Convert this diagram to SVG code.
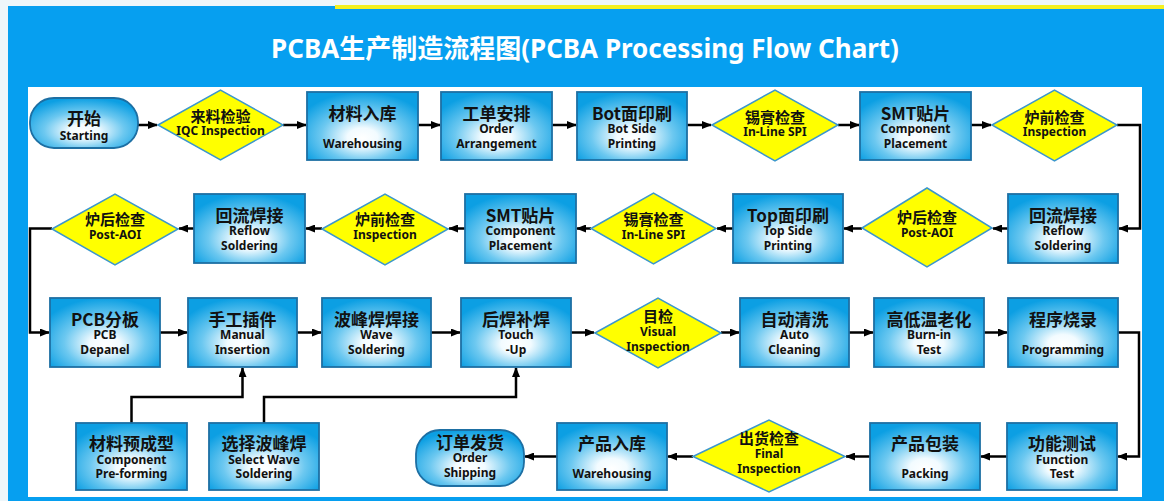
<svg xmlns="http://www.w3.org/2000/svg" width="1164" height="501" viewBox="0 0 1164 501">
<style>
.box{fill:url(#bg);stroke:#1d6fa3;stroke-width:1.8}
.dia{fill:#ffff00;stroke:#3c97cc;stroke-width:1.5}
.cn{font-family:"Noto Sans CJK SC","Noto Sans",sans-serif;font-weight:bold;font-size:17px;fill:#111;text-anchor:middle}
.cnd{font-family:"Noto Sans CJK SC","Noto Sans",sans-serif;font-weight:bold;font-size:15px;fill:#111;text-anchor:middle}
.en{font-family:"Noto Sans","Liberation Sans",sans-serif;font-weight:bold;font-size:12px;fill:#111;text-anchor:middle}
.ln{fill:none;stroke:#000;stroke-width:2.5;marker-end:url(#ah)}
.lnn{fill:none;stroke:#000;stroke-width:2.5}
</style>
<defs>
<radialGradient id="bg" cx="50%" cy="62%" r="62%" fx="50%" fy="68%">
<stop offset="0" stop-color="#ffffff"/>
<stop offset="0.22" stop-color="#f2fbff"/>
<stop offset="0.6" stop-color="#6cc8f0"/>
<stop offset="1" stop-color="#0c9fe3"/>
</radialGradient>
<marker id="ah" markerUnits="userSpaceOnUse" markerWidth="10" markerHeight="8" refX="9" refY="4" orient="auto">
<path d="M0,0 L10,4 L0,8 z" fill="#000"/>
</marker>
</defs>
<rect x="0" y="0" width="1164" height="501" fill="#eef6fa"/>
<rect x="8" y="6" width="1156" height="495" fill="#069ff0"/>
<rect x="335" y="5" width="829" height="4" fill="#f4f020"/>
<rect x="28" y="87" width="1114" height="410" fill="#ffffff"/>
<text x="585" y="58" font-family="'Noto Sans','Noto Sans CJK SC',sans-serif" font-weight="bold" font-size="26" fill="#ffffff" text-anchor="middle">PCBA生产制造流程图(PCBA Processing Flow Chart)</text>

<g id="connectors">
<path class="ln" d="M138,125 H157"/>
<path class="ln" d="M283,125 H306"/>
<path class="ln" d="M418,125 H440"/>
<path class="ln" d="M552,125 H576"/>
<path class="ln" d="M687,125 H711"/>
<path class="ln" d="M838,125 H859"/>
<path class="ln" d="M971,125 H991"/>
<path class="ln" d="M1117,125 H1140 V228.5 H1119"/>
<path class="ln" d="M1008,228.5 H993"/>
<path class="ln" d="M862,228.5 H844"/>
<path class="ln" d="M733,228.5 H717"/>
<path class="ln" d="M591,228.5 H577"/>
<path class="ln" d="M465,228.5 H449"/>
<path class="ln" d="M322,228.5 H306"/>
<path class="ln" d="M194,228.5 H179"/>
<path class="ln" d="M52,228.5 H30 V332.5 H49"/>
<path class="ln" d="M160,332.5 H187"/>
<path class="ln" d="M297,332.5 H321"/>
<path class="ln" d="M431,332.5 H460"/>
<path class="ln" d="M571,332.5 H594"/>
<path class="ln" d="M721,332.5 H739"/>
<path class="ln" d="M849,332.5 H873"/>
<path class="ln" d="M984,332.5 H1007"/>
<path class="ln" d="M1118,332.5 H1139 V456.5 H1118"/>
<path class="ln" d="M1007,456.5 H981"/>
<path class="ln" d="M870,456.5 H846"/>
<path class="ln" d="M693,456.5 H668"/>
<path class="ln" d="M557,456.5 H525"/>
<path class="ln" d="M131.5,423 V397 H242.5 V368"/>
<path class="ln" d="M264,423 V397 H516 V368"/>
</g>

<g id="n-start"><rect class="box" x="30" y="98" width="108" height="50" rx="24"/><text class="cn" x="84" y="124.5">开始</text><text class="en" x="84" y="139.5">Starting</text></g>
<g id="n-iqc"><polygon class="dia" points="158,125 220.5,90 283,125 220.5,160"/><text class="cnd" x="220.5" y="121.5">来料检验</text><text class="en" x="220.5" y="134.5">IQC Inspection</text></g>
<g id="n-warehousing1"><rect class="box" x="307" y="92" width="111" height="68"/><text class="cn" x="362.5" y="119.5">材料入库</text><text class="en" x="362.5" y="147.5">Warehousing</text></g>
<g id="n-order"><rect class="box" x="441" y="92" width="111" height="68"/><text class="cn" x="496.5" y="119.5">工单安排</text><text class="en" x="496.5" y="132.5">Order</text><text class="en" x="496.5" y="147.5">Arrangement</text></g>
<g id="n-botprint"><rect class="box" x="577" y="92" width="110" height="68"/><text class="cn" x="632" y="119.5">Bot面印刷</text><text class="en" x="632" y="132.5">Bot Side</text><text class="en" x="632" y="147.5">Printing</text></g>
<g id="n-spi1"><polygon class="dia" points="712,125 775,90 838,125 775,161"/><text class="cnd" x="775" y="122.5">锡膏检查</text><text class="en" x="775" y="135.5">In-Line SPI</text></g>
<g id="n-smt1"><rect class="box" x="860" y="92" width="111" height="68"/><text class="cn" x="915.5" y="119.5">SMT贴片</text><text class="en" x="915.5" y="132.5">Component</text><text class="en" x="915.5" y="147.5">Placement</text></g>
<g id="n-preinsp1"><polygon class="dia" points="992,125 1054.5,90 1117,125 1054.5,161"/><text class="cnd" x="1054.5" y="122.5">炉前检查</text><text class="en" x="1054.5" y="135.5">Inspection</text></g>

<g id="n-reflow1"><rect class="box" x="1008" y="194" width="110" height="69"/><text class="cn" x="1063" y="221.5">回流焊接</text><text class="en" x="1063" y="234.5">Reflow</text><text class="en" x="1063" y="249.5">Soldering</text></g>
<g id="n-aoi1"><polygon class="dia" points="862,228 927,188 992,228 927,267"/><text class="cnd" x="927" y="223">炉后检查</text><text class="en" x="927" y="236.5">Post-AOI</text></g>
<g id="n-topprint"><rect class="box" x="733" y="194" width="110" height="69"/><text class="cn" x="788" y="221.5">Top面印刷</text><text class="en" x="788" y="234.5">Top Side</text><text class="en" x="788" y="249.5">Printing</text></g>
<g id="n-spi2"><polygon class="dia" points="591,228.5 653.5,193 716,228.5 653.5,264"/><text class="cnd" x="653.5" y="224.5">锡膏检查</text><text class="en" x="653.5" y="238.5">In-Line SPI</text></g>
<g id="n-smt2"><rect class="box" x="465" y="194" width="111" height="69"/><text class="cn" x="520.5" y="221.5">SMT贴片</text><text class="en" x="520.5" y="234.5">Component</text><text class="en" x="520.5" y="249.5">Placement</text></g>
<g id="n-preinsp2"><polygon class="dia" points="322,229 385,194 448,229 385,265"/><text class="cnd" x="385" y="224.5">炉前检查</text><text class="en" x="385" y="239">Inspection</text></g>
<g id="n-reflow2"><rect class="box" x="194" y="194" width="111" height="69"/><text class="cn" x="249.5" y="221.5">回流焊接</text><text class="en" x="249.5" y="234.5">Reflow</text><text class="en" x="249.5" y="249.5">Soldering</text></g>
<g id="n-aoi2"><polygon class="dia" points="52,229 115,194 178,229 115,265"/><text class="cnd" x="115" y="224.5">炉后检查</text><text class="en" x="115" y="239">Post-AOI</text></g>

<g id="n-depanel"><rect class="box" x="50" y="298" width="110" height="69"/><text class="cn" x="105" y="325.5">PCB分板</text><text class="en" x="105" y="338.5">PCB</text><text class="en" x="105" y="353.5">Depanel</text></g>
<g id="n-manual"><rect class="box" x="188" y="298" width="109" height="69"/><text class="cn" x="242.5" y="325.5">手工插件</text><text class="en" x="242.5" y="338.5">Manual</text><text class="en" x="242.5" y="353.5">Insertion</text></g>
<g id="n-wave"><rect class="box" x="322" y="298" width="109" height="69"/><text class="cn" x="376.5" y="325.5">波峰焊焊接</text><text class="en" x="376.5" y="338.5">Wave</text><text class="en" x="376.5" y="353.5">Soldering</text></g>
<g id="n-touchup"><rect class="box" x="461" y="298" width="110" height="69"/><text class="cn" x="516" y="325.5">后焊补焊</text><text class="en" x="516" y="338.5">Touch</text><text class="en" x="516" y="353.5">-Up</text></g>
<g id="n-visual"><polygon class="dia" points="595,333 658,298 721,333 658,368"/><text class="cnd" x="658" y="321.5">目检</text><text class="en" x="658" y="335.5">Visual</text><text class="en" x="658" y="350.5">Inspection</text></g>
<g id="n-clean"><rect class="box" x="740" y="298" width="109" height="69"/><text class="cn" x="794.5" y="325.5">自动清洗</text><text class="en" x="794.5" y="338.5">Auto</text><text class="en" x="794.5" y="353.5">Cleaning</text></g>
<g id="n-burnin"><rect class="box" x="874" y="298" width="110" height="69"/><text class="cn" x="929" y="325.5">高低温老化</text><text class="en" x="929" y="338.5">Burn-in</text><text class="en" x="929" y="353.5">Test</text></g>
<g id="n-program"><rect class="box" x="1008" y="298" width="110" height="69"/><text class="cn" x="1063" y="325.5">程序烧录</text><text class="en" x="1063" y="353.5">Programming</text></g>

<g id="n-preform"><rect class="box" x="76" y="423" width="111" height="67"/><text class="cn" x="131.5" y="449.5">材料预成型</text><text class="en" x="131.5" y="463.5">Component</text><text class="en" x="131.5" y="477.5">Pre-forming</text></g>
<g id="n-selwave"><rect class="box" x="209" y="423" width="110" height="67"/><text class="cn" x="264" y="449.5">选择波峰焊</text><text class="en" x="264" y="463.5">Select Wave</text><text class="en" x="264" y="477.5">Soldering</text></g>
<g id="n-ship"><rect class="box" x="416" y="430" width="108" height="56" rx="24"/><text class="cn" x="470" y="448.5">订单发货</text><text class="en" x="470" y="461.5">Order</text><text class="en" x="470" y="476.5">Shipping</text></g>
<g id="n-warehousing2"><rect class="box" x="557" y="423" width="110" height="67"/><text class="cn" x="612" y="449.5">产品入库</text><text class="en" x="612" y="477.5">Warehousing</text></g>
<g id="n-final"><polygon class="dia" points="693,456.5 769,420 845,456.5 769,492"/><text class="cnd" x="769" y="444">出货检查</text><text class="en" x="769" y="457.5">Final</text><text class="en" x="769" y="472.5">Inspection</text></g>
<g id="n-packing"><rect class="box" x="870" y="423" width="110" height="67"/><text class="cn" x="925" y="449.5">产品包装</text><text class="en" x="925" y="477.5">Packing</text></g>
<g id="n-functest"><rect class="box" x="1007" y="423" width="110" height="67"/><text class="cn" x="1062" y="449.5">功能测试</text><text class="en" x="1062" y="463.5">Function</text><text class="en" x="1062" y="477.5">Test</text></g>
</svg>
